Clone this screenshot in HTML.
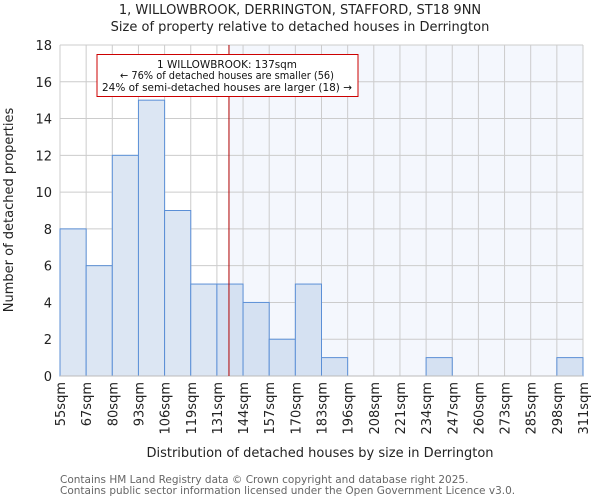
<!DOCTYPE html>
<html><head><meta charset="utf-8"><style>
body{margin:0;background:#fff;font-family:"DejaVu Sans","Liberation Sans",sans-serif;}
</style></head><body>
<svg width="600" height="500" xmlns="http://www.w3.org/2000/svg" font-family="DejaVu Sans, Liberation Sans, sans-serif">
<g id="g"></g>
</svg>
<script>
const edges=["55sqm","67sqm","80sqm","93sqm","106sqm","119sqm","131sqm","144sqm","157sqm","170sqm","183sqm","196sqm","208sqm","221sqm","234sqm","247sqm","260sqm","273sqm","285sqm","298sqm","311sqm"];
const counts=[8,6,12,15,9,5,5,4,2,5,1,0,0,0,1,0,0,0,0,1];
const yTicks=[0,2,4,6,8,10,12,14,16,18];
const markerBin=6+(137-131)/13;
const L=60,R=583,T=45,B=376,yMax=18;
const bw=(R-L)/counts.length;
const x=i=>L+i*bw, y=v=>B-(B-T)*v/yMax;
const g=document.getElementById('g');const NS="http://www.w3.org/2000/svg";
function el(t,a,txt){const e=document.createElementNS(NS,t);for(const k in a)e.setAttribute(k,a[k]);if(txt!==undefined)e.textContent=txt;g.appendChild(e);return e;}
const mx=x(markerBin);
let e=el('rect',{x:mx,y:T,width:R-mx,height:B-T,fill:'#f4f7fd'});

for(let i=0;i<=counts.length;i++){e=el('line',{x1:x(i),x2:x(i),y1:T,y2:B,stroke:'#cccccc'});}
yTicks.forEach(v=>{e=el('line',{x1:L,x2:R,y1:y(v),y2:y(v),stroke:'#cccccc'});
e=el('text',{x:L-8,y:y(v)+5,'text-anchor':'end','font-size':13,fill:'#222'},v);});
counts.forEach((c,i)=>{if(c<=0)return;const left=(i+1)<=markerBin;
e=el('rect',{x:x(i),y:y(c),width:bw,height:B-y(c),fill:left?'#dce6f3':'#d5e1f2',stroke:'#5b8fd6','stroke-width':1});
});
e=el('line',{x1:L,x2:R,y1:B,y2:B,stroke:'#bbbbbb'});
edges.forEach((t,i)=>{e=el('text',{transform:`translate(${x(i)+5},382) rotate(-90)`,'text-anchor':'end','font-size':13,fill:'#222'},t);});
e=el('line',{x1:mx,x2:mx,y1:T,y2:B,stroke:'#b00000','stroke-width':1});
e=el('rect',{x:97,y:54.5,width:261,height:42,fill:'#fff',stroke:'#cc0000'});
[["1 WILLOWBROOK: 137sqm",66,140],["← 76% of detached houses are smaller (56)",77,214],["24% of semi-detached houses are larger (18) →",89,250]].forEach(a=>{e=el('text',{x:227,y:a[1]+2,'text-anchor':'middle','font-size':10.5,fill:'#111',textLength:a[2],lengthAdjust:'spacingAndGlyphs'},a[0]);});
e=el('text',{x:300,y:14,'text-anchor':'middle','font-size':13,fill:'#222'},"1, WILLOWBROOK, DERRINGTON, STAFFORD, ST18 9NN");
e=el('text',{x:300,y:31,'text-anchor':'middle','font-size':13,fill:'#222'},"Size of property relative to detached houses in Derrington");
e=el('text',{transform:'translate(13,210) rotate(-90)','text-anchor':'middle','font-size':13,fill:'#222'},"Number of detached properties");
e=el('text',{x:320,y:457,'text-anchor':'middle','font-size':13,fill:'#222'},"Distribution of detached houses by size in Derrington");
e=el('text',{x:60,y:483,'font-size':10.5,fill:'#666'},"Contains HM Land Registry data © Crown copyright and database right 2025.");
e=el('text',{x:60,y:494,'font-size':10.5,fill:'#666'},"Contains public sector information licensed under the Open Government Licence v3.0.");
</script>
</body></html>
